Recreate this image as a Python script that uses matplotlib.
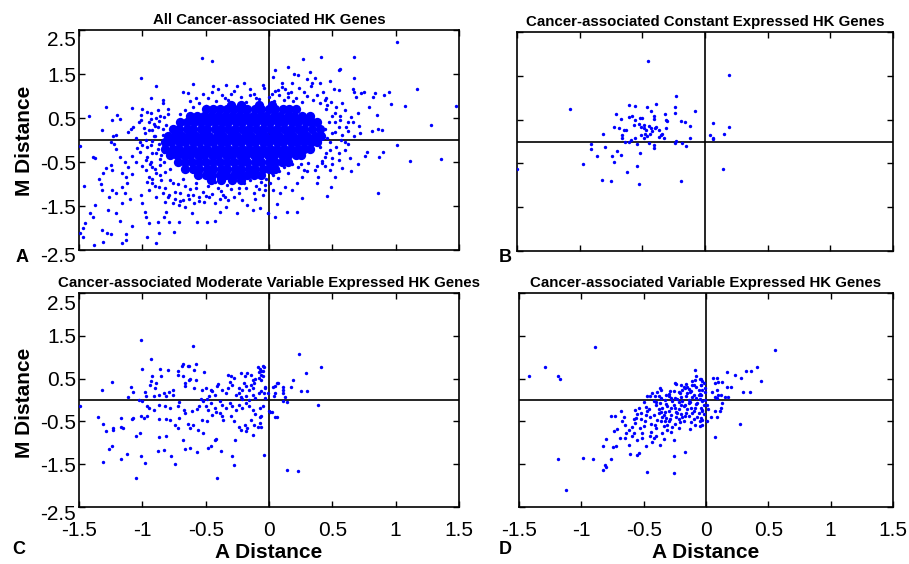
import matplotlib
matplotlib.use("Agg")
import matplotlib.pyplot as plt
from matplotlib.transforms import ScaledTranslation

plt.rcParams["font.family"] = ["Liberation Sans", "DejaVu Sans"]

titles = [
    "All Cancer-associated HK Genes",
    "Cancer-associated Constant Expressed HK Genes",
    "Cancer-associated Moderate Variable Expressed HK Genes",
    "Cancer-associated Variable Expressed HK Genes",
]
panel_letters = ["A", "B", "C", "D"]
x_ticks = [-1.5, -1, -0.5, 0, 0.5, 1, 1.5]
x_tick_labels = ["-1.5", "-1", "-0.5", "0", "0.5", "1", "1.5"]
y_ticks = [2.5, 1.5, 0.5, -0.5, -1.5, -2.5]
y_tick_labels = ["2.5", "1.5", "0.5", "-0.5", "-1.5", "-2.5"]

# panel A: scattered genes around the dense cloud (A distance, M distance)
pts_a = [
    (-0.53, 1.87), (-0.45, 1.80), (-1.01, 1.41), (-0.89, 1.23), (-0.60, 1.27), (-0.44, 1.23),
    (-0.68, 1.09), (-0.64, 1.06), (-0.93, 0.96), (-0.84, 0.91), (-0.84, 0.83), (-1.29, 0.74),
    (-1.08, 0.72), (-1.00, 0.70), (-0.96, 0.64), (-0.80, 0.70), (-1.42, 0.55), (-1.24, 0.45),
    (-1.20, 0.56), (-1.18, 0.47), (-1.01, 0.56), (-1.01, 0.45), (-0.93, 0.47), (-0.91, 0.36),
    (-0.87, 0.44), (-0.83, 0.52), (-1.32, 0.23), (-1.23, 0.09), (-1.21, 0.11), (-1.11, 0.18),
    (-1.09, 0.26), (-1.07, 0.29), (-1.25, -0.04), (-1.22, -0.09), (-1.21, -0.20), (-1.49, -0.14),
    (-1.39, -0.38), (-1.37, -0.40), (-1.29, -0.63), (-1.31, -0.76), (-1.25, -0.57), (-1.24, -0.68),
    (-1.46, -1.05), (-1.34, -0.89), (-1.33, -1.00), (-1.32, -1.14), (-1.37, -1.48), (-1.39, -1.74),
    (-1.41, -1.67), (-1.45, -1.89), (-1.47, -2.01), (-1.49, -2.12), (-1.47, -2.20), (-1.38, -2.39),
    (-1.31, -2.31), (-1.32, -2.05), (-1.28, -2.12), (-1.25, -2.14), (-1.16, -2.35), (-1.13, -2.27),
    (-1.13, -2.14), (-1.08, -1.95), (-1.18, -1.83), (-1.21, -1.65), (-1.16, -1.44), (-1.27, -1.59),
    (-1.26, -1.29), (-1.24, -1.14), (-1.21, -1.21), (-1.16, -1.06), (-1.14, -1.21), (-1.12, -0.98),
    (-1.10, -1.33), (-1.16, -0.76), (-1.13, -0.83), (-1.11, -0.61), (-1.08, -0.77), (-1.18, -0.38),
    (-1.14, -0.49), (-1.08, -0.36), (-1.05, -0.49), (-1.04, -0.19), (-1.00, -0.11), (-1.02, -0.04),
    (-1.01, -1.25), (-1.00, -1.44), (-0.98, -1.63), (-0.97, -1.76), (-0.95, -1.88), (-0.96, -2.20),
    (-0.89, -2.35), (-0.87, -2.12), (-0.88, -1.86), (-0.83, -1.74), (-0.81, -1.63), (-0.79, -1.86),
    (-0.75, -2.08), (-0.71, -1.86), (-0.61, -1.65), (-0.57, -1.86), (-0.49, -1.86), (-0.43, -1.83),
    (-0.39, -1.63), (-0.34, -1.52), (-0.25, -1.67), (-0.21, -1.36), (-0.17, -1.48), (-0.13, -1.59),
    (-0.07, -1.55), (-0.01, -1.67), (-0.11, -1.33), (-0.05, -1.25), (-0.03, -1.14), (-0.95, -1.14),
    (-0.92, -0.98), (-0.89, -1.29), (-0.87, -1.06), (-0.84, -1.21), (-0.82, -1.40), (-0.79, -1.25),
    (-0.76, -1.44), (-0.74, -1.33), (-0.71, -1.48), (-0.68, -1.36), (-0.66, -1.52), (-0.63, -1.33),
    (-0.59, -1.44), (-0.55, -1.29), (-0.51, -1.40), (-0.47, -1.29), (-0.43, -1.44), (-0.39, -1.33),
    (-0.36, -1.25), (-0.32, -1.36), (-0.28, -1.29), (-0.24, -1.21), (-0.97, -0.68), (-0.95, -0.83),
    (-0.92, -0.61), (-0.89, -0.76), (-0.86, -0.57), (-0.82, -0.72), (-0.96, -0.38), (-0.93, -0.49),
    (-0.89, -0.30), (-0.86, -0.44), (-0.83, -0.27), (-0.97, 0.00), (-0.93, -0.11), (-0.91, 0.08),
    (-0.87, -0.08), (-0.84, 0.11), (-0.92, 0.23), (-0.88, 0.30), (-0.84, 0.24), (-0.81, 0.34),
    (1.01, 2.23), (0.41, 1.89), (0.67, 1.89), (0.27, 1.84), (0.15, 1.65), (0.56, 1.61),
    (0.55, 1.58), (0.32, 1.55), (0.67, 1.42), (0.05, 1.58), (0.03, 1.44), (1.17, 1.16),
    (0.95, 1.10), (0.91, 1.02), (0.84, 1.06), (0.82, 0.97), (1.07, 0.77), (0.96, 0.82),
    (1.48, 0.78), (1.28, 0.33), (1.36, -0.43), (1.11, -0.47), (1.01, -0.11), (0.86, -1.20),
    (0.90, -0.27), (0.87, -0.38), (0.76, -0.36), (0.77, -0.27), (0.73, 1.06), (0.75, 1.10),
    (0.69, 0.98), (0.66, 1.15), (0.67, 1.10), (0.79, 0.74), (0.85, 0.57), (0.89, 0.23),
    (0.86, 0.24), (0.81, 0.21), (0.71, 0.32), (0.67, 0.08), (0.62, -0.08), (0.65, -0.70),
    (0.58, -0.64), (0.52, -0.83), (0.49, -1.06), (0.46, -1.27), (0.26, -1.31), (0.22, -1.64),
    (0.14, -1.64), (0.05, -1.74), (0.06, -1.45), (-0.01, -1.67), (0.39, -0.83), (0.38, -0.98),
    (0.36, -0.68), (0.42, -0.53), (0.44, -0.38), (0.48, -0.68), (0.55, -0.45), (0.60, -0.23),
    (0.57, 0.00), (0.52, 0.19), (0.61, 0.30), (0.56, 0.45), (0.65, 0.53), (0.60, 0.68),
    (0.53, 0.76), (0.49, 0.87), (0.45, 0.95), (0.55, 1.14), (0.51, 1.17), (0.48, 1.35),
    (0.36, 1.40), (0.40, 1.29), (0.34, 1.29), (0.30, 1.38), (0.23, 1.48), (0.20, 1.50),
    (0.18, 1.29), (0.10, 1.29), (0.13, 1.17), (0.07, 1.14), (0.15, 1.06), (0.28, -0.68),
    (0.26, -0.83), (0.22, -0.98), (0.18, -1.14), (0.13, -1.06), (0.09, -1.21), (0.03, -1.14),
    (0.01, -0.98), (0.31, -0.53), (0.23, -0.61), (0.15, -0.76), (0.07, -0.87), (0.02, -0.76),
    (-0.55, 0.85), (-0.48, 0.95), (-0.42, 0.88), (-0.37, 1.02), (-0.32, 0.92), (-0.28, 1.12),
    (-0.22, 0.98), (-0.18, 0.86), (-0.12, 1.05), (-0.08, 0.93), (-0.04, 1.18), (0.00, 0.97),
    (0.04, 0.88), (0.08, 1.02), (0.12, 0.92), (0.17, 1.08), (0.21, 0.95), (0.26, 0.86),
    (0.30, 1.00), (0.35, 0.90), (0.40, 0.84), (-0.50, 0.78), (-0.60, 0.76), (-0.66, 0.68),
    (-0.70, 0.60), (-0.25, 1.22), (-0.15, 1.15), (0.05, 1.12), (0.24, 1.18), (0.44, 0.92),
    (-0.34, 1.25), (-0.45, 1.10), (-0.52, 1.05), (-0.95, 0.40), (-0.90, 0.10), (-0.88, -0.20),
    (-0.92, -0.30), (-0.86, 0.55), (-0.83, -0.50), (-0.80, 0.60), (-0.78, -0.65), (-0.96, -0.15),
    (-0.90, 0.32), (-0.98, 0.15), (-1.02, -0.28), (-0.94, -0.55), (-0.78, -0.90), (-0.72, -1.00),
    (-0.68, -0.88), (-0.62, -1.12), (-0.58, -0.98), (-0.52, -1.18), (-0.48, -1.05), (-0.43, -0.95),
    (-0.38, -1.15), (-0.33, -1.02), (-0.28, -0.94), (-0.24, -1.10), (-0.20, -0.98), (-0.15, -0.90),
    (-0.10, -1.05), (-0.06, -0.95), (-0.02, -0.88), (0.03, -0.80), (0.08, -0.70), (-0.70, -1.20),
    (-0.60, -1.25), (-0.45, -1.22), (-0.12, -1.20), (-0.03, -1.02), (0.12, -0.62), (0.18, -0.55),
    (0.45, 0.70), (0.50, 0.55), (0.47, 0.40), (0.55, 0.30), (0.50, 0.15), (0.58, 0.12),
    (0.48, -0.05), (0.53, -0.15), (0.45, -0.30), (0.50, -0.40), (0.42, -0.48), (0.62, 0.42),
    (0.60, -0.05), (0.52, 0.62), (0.38, -0.60), (0.30, -0.70), (0.25, -0.55),
    (-0.58, 0.95), (-0.40, 1.15), (-0.30, 1.05), (-0.20, 1.30), (-0.10, 0.95), (0.02, 1.05),
    (0.10, 1.20), (0.15, 0.98), (0.28, 1.10), (0.33, 1.22), (0.38, 1.02), (0.43, 1.10),
    (-0.62, 0.88), (-0.15, 1.02), (0.19, 0.88), (0.46, 0.80), (-0.35, 0.96), (-0.05, 1.25),
    (-0.99, 0.28), (-0.93, 0.62), (-0.97, -0.45), (-1.03, 0.40), (-0.92, -0.02), (-0.89, 0.50),
    (-0.95, 0.22), (-1.05, 0.05), (-0.90, -0.65), (-1.00, -0.60), (-0.88, 0.68), (-0.85, -0.35),
    (-0.96, -0.95), (-0.90, -1.05), (-0.85, -0.92), (-0.82, -1.10), (-0.80, -1.30), (-0.76, -0.98),
    (-0.74, -1.18), (-0.70, -1.38), (-0.66, -1.05), (-0.64, -1.25), (-0.58, -1.10), (-0.55, -1.38),
    (-0.50, -1.28), (-0.40, -1.08), (-0.35, -1.30), (-0.30, -1.12), (-0.18, -1.08), (-0.08, -1.12),
    (-0.86, -0.80), (-0.92, -0.88), (0.44, 0.25), (0.46, 0.05), (0.52, 0.40), (0.56, 0.55),
    (0.62, 0.20), (0.66, 0.40), (0.70, 0.62), (0.58, 0.85), (0.48, -0.22), (0.55, -0.30),
    (0.44, -0.60), (0.40, -0.15), (0.64, -0.40), (0.70, -0.55), (0.72, 0.15), (0.50, -0.55),
]

# panel A: the solid core of the cloud, one M level per row with its A values
a_core_y = [0.80, 0.70, 0.55, 0.40, 0.25, 0.10, -0.05, -0.20, -0.35, -0.50, -0.65, -0.80, -0.92]
a_core_x = [
    [-0.30, -0.22, -0.08, 0.02],
    [-0.50, -0.44, -0.39, -0.33, -0.28, -0.22, -0.17, -0.11, -0.06, 0.00, 0.05, 0.11, 0.16, 0.21],
    [-0.62, -0.57, -0.51, -0.46, -0.40, -0.35, -0.29, -0.24, -0.18, -0.13, -0.07, -0.02, 0.04, 0.09,
     0.15, 0.20, 0.26, 0.32],
    [-0.70, -0.65, -0.59, -0.54, -0.48, -0.43, -0.37, -0.32, -0.26, -0.21, -0.15, -0.10, -0.04, 0.01,
     0.07, 0.12, 0.18, 0.23, 0.29, 0.34, 0.38],
    [-0.76, -0.71, -0.65, -0.60, -0.54, -0.49, -0.43, -0.38, -0.32, -0.27, -0.21, -0.16, -0.10, -0.05,
     0.01, 0.06, 0.12, 0.17, 0.23, 0.28, 0.34, 0.40],
    [-0.80, -0.74, -0.69, -0.63, -0.58, -0.52, -0.47, -0.41, -0.36, -0.30, -0.25, -0.19, -0.14, -0.08,
     -0.03, 0.03, 0.08, 0.14, 0.19, 0.25, 0.30, 0.36, 0.41],
    [-0.82, -0.77, -0.71, -0.66, -0.60, -0.55, -0.49, -0.44, -0.38, -0.33, -0.27, -0.22, -0.16, -0.11,
     -0.05, 0.00, 0.06, 0.11, 0.17, 0.22, 0.28, 0.33, 0.38],
    [-0.82, -0.76, -0.71, -0.65, -0.60, -0.54, -0.49, -0.43, -0.38, -0.32, -0.27, -0.21, -0.16, -0.10,
     -0.05, 0.01, 0.06, 0.12, 0.17, 0.23, 0.28, 0.32],
    [-0.78, -0.73, -0.67, -0.62, -0.56, -0.51, -0.45, -0.40, -0.34, -0.29, -0.23, -0.18, -0.12, -0.07,
     -0.01, 0.04, 0.10, 0.15, 0.21, 0.25],
    [-0.72, -0.66, -0.61, -0.55, -0.50, -0.44, -0.39, -0.33, -0.28, -0.22, -0.17, -0.11, -0.06, 0.00,
     0.05, 0.10, 0.15],
    [-0.66, -0.60, -0.55, -0.49, -0.44, -0.38, -0.33, -0.27, -0.22, -0.16, -0.11, -0.05, 0.00, 0.05],
    [-0.56, -0.50, -0.45, -0.39, -0.34, -0.28, -0.23, -0.17, -0.12, -0.06],
    [-0.46, -0.38, -0.29, -0.22],
]

pts_b = [
    (-0.455, 1.84), (0.19, 1.52), (-1.08, 0.74), (-0.23, 1.05), (-0.08, 0.70), (-0.61, 0.83),
    (-0.56, 0.82), (-0.46, 0.79), (-0.43, 0.69), (-0.39, 0.86), (-0.24, 0.79), (-0.24, 0.64),
    (-0.71, 0.62), (-0.67, 0.51), (-0.61, 0.55), (-0.58, 0.58), (-0.56, 0.49), (-0.52, 0.53),
    (-0.50, 0.53), (-0.41, 0.58), (-0.41, 0.51), (-0.32, 0.63), (-0.31, 0.49), (-0.30, 0.46),
    (-0.19, 0.47), (-0.16, 0.44), (-0.12, 0.35), (0.06, 0.43), (0.19, 0.32), (-0.73, 0.34),
    (-0.69, 0.30), (-0.65, 0.27), (-0.63, 0.26), (-0.57, 0.37), (-0.53, 0.40), (-0.51, 0.34),
    (-0.49, 0.30), (-0.49, 0.37), (-0.47, 0.26), (-0.45, 0.35), (-0.43, 0.31), (-0.42, 0.24),
    (-0.40, 0.30), (-0.39, 0.34), (-0.37, 0.26), (-0.31, 0.30), (-0.81, 0.18), (-0.66, 0.14),
    (-0.66, 0.09), (-0.51, 0.14), (-0.48, 0.18), (-0.46, 0.12), (-0.44, 0.16), (-0.37, 0.11),
    (-0.35, 0.14), (-0.34, 0.18), (-0.33, 0.09), (-0.12, 0.09), (0.04, 0.14), (0.06, 0.09),
    (0.06, 0.06), (0.15, 0.17), (-0.64, -0.01), (-0.61, -0.01), (-0.59, 0.03), (-0.56, 0.07),
    (-0.54, -0.05), (-0.49, 0.08), (-0.45, -0.03), (-0.41, -0.07), (-0.41, -0.14), (-0.24, -0.03),
    (-0.23, 0.02), (-0.18, -0.03), (-0.15, -0.10), (-0.91, -0.06), (-0.91, -0.18), (-0.80, -0.13),
    (-0.86, -0.32), (-0.70, -0.22), (-0.74, -0.32), (-0.67, -0.30), (-0.73, -0.46), (-0.52, -0.27),
    (-0.97, -0.52), (-0.54, -0.55), (-0.62, -0.70), (-0.82, -0.87), (-0.75, -0.91), (-0.53, -0.98),
    (-0.19, -0.91), (0.14, -0.62), (-1.50, -0.62),
]

pts_c = [
    (-1.01, 1.40), (-0.60, 1.27), (-0.93, 0.96), (-1.00, 0.72), (-1.24, 0.41), (-1.32, 0.23),
    (-1.49, -0.13), (-1.35, -0.40), (-1.31, -0.56), (-1.29, -0.72), (-1.23, -0.71), (-1.23, -0.65),
    (-1.17, -0.43), (-1.17, -0.62), (-1.15, -0.65), (-1.24, -1.07), (-1.26, -1.14), (-1.31, -1.45),
    (-1.17, -1.39), (-1.12, -1.26), (-1.05, -1.82), (-1.01, -1.31), (-0.98, -1.47), (-1.08, -0.44),
    (-1.07, -0.42), (-1.05, -0.85), (-1.02, -0.77), (-1.01, -0.38), (-0.99, -0.43), (-0.96, -0.37),
    (-1.11, 0.06), (-1.09, 0.30), (-1.07, 0.18), (-1.03, 0.01), (-1.00, -0.02), (-0.97, 0.09),
    (-0.96, -0.13), (-0.93, 0.44), (-0.94, 0.36), (-0.92, 0.55), (-0.89, 0.40), (-0.90, 0.28),
    (-0.86, 0.72), (-0.85, 0.57), (-0.80, 0.69), (-0.87, -0.44), (-0.87, -0.86), (-0.88, -1.18),
    (-0.83, -1.16), (-0.81, -0.83), (-0.77, -1.30), (-0.74, -1.49), (-0.81, -0.44), (-0.78, -0.46),
    (-0.72, -0.65), (-0.68, -0.94), (-0.66, -1.14), (-0.62, -1.11), (-0.57, -1.21), (-0.48, -1.13),
    (-0.46, -1.08), (-0.43, -0.93), (-0.42, -0.91), (-0.41, -1.82), (-0.38, -1.18), (-0.29, -1.32),
    (-0.28, -1.53), (-0.27, -0.93), (-0.04, -1.29), (-0.71, -0.05), (-0.72, -0.15), (-0.76, 0.12),
    (-0.76, 0.24), (-0.72, 0.67), (-0.72, 0.59), (-0.69, 0.80), (-0.68, 0.83), (-0.64, 0.80),
    (-0.63, 0.79), (-0.58, 0.85), (-0.59, 0.71), (-0.51, 0.65), (-0.68, 0.57), (-0.66, 0.40),
    (-0.63, 0.46), (-0.62, 0.49), (-0.66, 0.32), (-0.59, 0.28), (-0.58, 0.46), (-0.83, 0.16),
    (-0.81, 0.10), (-0.79, 0.18), (-0.91, 0.09), (-0.87, 0.12), (-0.87, -0.12), (-0.82, -0.13),
    (-0.78, -0.19), (-0.67, -0.23), (-0.66, -0.30), (-0.61, -0.26), (-0.57, -0.21), (-0.55, -0.15),
    (-0.71, -0.42), (-0.74, -0.58), (-0.64, -0.55), (-0.62, -0.65), (-0.60, -0.59), (-0.53, -0.46),
    (-0.49, -0.48), (-0.54, 0.02), (-0.52, -0.03), (-0.49, 0.02), (-0.47, 0.09), (-0.53, 0.24),
    (-0.50, 0.27), (-0.46, 0.24), (-0.45, 0.20), (-0.43, 0.12), (-0.41, 0.32), (-0.40, 0.38),
    (-0.37, 0.24), (-0.34, 0.16), (-0.32, 0.28), (-0.32, 0.59), (-0.30, 0.55), (-0.28, 0.51),
    (-0.31, 0.41), (-0.29, 0.36), (-0.22, 0.62), (-0.19, 0.55), (-0.17, 0.62), (-0.14, 0.58),
    (-0.13, 0.46), (-0.12, 0.40), (-0.11, 0.49), (-0.08, 0.51), (-0.08, 0.65), (-0.06, 0.59),
    (-0.04, 0.77), (-0.05, 0.67), (-0.07, 0.72), (-0.09, 0.77), (-0.14, 0.36), (-0.13, 0.28),
    (-0.16, 0.24), (-0.20, 0.40), (-0.18, 0.32), (-0.21, 0.23), (-0.24, 0.28), (-0.26, 0.12),
    (-0.24, 0.16), (-0.22, 0.07), (-0.21, 0.02), (-0.18, 0.09), (-0.16, 0.01), (-0.13, 0.12),
    (-0.11, 0.05), (-0.08, 0.16), (-0.06, 0.20), (-0.03, 0.28), (-0.01, 0.16), (0.07, 0.40),
    (0.05, 0.32), (0.01, -0.29), (0.06, -0.40), (-0.39, -0.03), (-0.37, -0.11), (-0.34, -0.19),
    (-0.31, -0.07), (-0.29, -0.15), (-0.26, -0.23), (-0.24, -0.11), (-0.21, -0.19), (-0.18, -0.07),
    (-0.16, -0.15), (-0.13, -0.23), (-0.11, -0.32), (-0.07, -0.19), (-0.06, -0.38), (-0.30, -0.38),
    (-0.28, -0.50), (-0.24, -0.62), (-0.22, -0.69), (-0.19, -0.58), (-0.17, -0.65), (-0.14, -0.46),
    (-0.12, -0.58), (-0.09, -0.62), (-0.07, -0.54), (-0.46, -0.07), (-0.43, -0.19), (-0.42, -0.29),
    (-0.45, -0.34), (-0.48, -0.23), (-0.50, -0.15), (-0.39, -0.30), (-0.37, -0.38), (-0.36, -0.46),
    (-0.56, -0.69), (-0.52, -0.77), (-0.18, -0.73), (-0.13, -0.81), (-0.95, -0.19), (-0.91, -0.24),
    (-0.98, 0.19), (0.24, 1.07), (0.41, 0.77), (0.29, 0.62), (0.19, 0.46), (0.06, 0.40),
    (0.03, 0.30), (0.11, 0.30), (0.11, 0.23), (0.11, 0.16), (0.17, 0.30), (0.25, 0.22),
    (0.30, 0.22), (0.05, 0.16), (0.04, 0.09), (0.13, 0.06), (0.14, -0.04), (0.11, -0.02),
    (0.39, -0.12), (0.00, -0.26), (0.02, -0.29), (0.05, -0.40), (0.14, -1.63), (0.23, -1.65),
    (-0.05, 0.79), (-0.06, 0.67), (-0.05, 0.57), (-0.06, 0.46), (-0.03, 0.30), (-0.04, 0.16),
    (-0.03, 0.05), (-0.05, -0.13), (-0.07, -0.40), (-0.06, -0.62),
]

pts_d = [
    (-0.89, 1.23), (-1.29, 0.76), (-1.42, 0.57), (-1.19, 0.57), (-1.17, 0.48), (-1.19, -1.38),
    (-0.99, -1.36), (-0.91, -1.39), (-1.12, -2.11), (-0.83, -1.63), (-0.81, -1.52), (-0.80, -1.56),
    (-0.76, -1.38), (-0.83, -1.08), (-0.80, -0.90), (-0.75, -1.10), (-0.72, -1.08), (-0.76, -0.37),
    (-0.73, -0.37), (-0.68, -0.26), (-0.74, -0.73), (-0.71, -0.68), (-0.69, -0.89), (-0.67, -0.48),
    (-0.65, -0.58), (-0.64, -0.77), (-0.65, -0.89), (-0.62, -1.04), (-0.61, -1.25), (-0.59, -0.62),
    (-0.58, -0.76), (-0.57, -0.54), (-0.57, -0.23), (-0.55, -0.32), (-0.55, -0.93), (-0.55, -1.28),
    (-0.54, -1.24), (-0.53, -0.66), (-0.51, -0.77), (-0.51, -0.89), (-0.52, -0.44), (-0.49, -0.50),
    (-0.47, 0.10), (-0.48, -0.16), (-0.47, -0.26), (-0.45, -0.40), (-0.47, -1.69), (-0.48, -1.08),
    (-0.45, -0.83), (-0.43, -0.97), (-0.42, -0.89), (-0.41, -0.58), (-0.39, -0.46), (-0.38, -0.30),
    (-0.42, -0.03), (-0.41, 0.09), (-0.39, 0.18), (-0.37, 0.28), (-0.36, 0.23), (-0.37, -0.07),
    (-0.35, -0.19), (-0.33, -0.29), (-0.31, -0.15), (-0.35, -0.40), (-0.33, -0.50), (-0.31, -0.58),
    (-0.29, -0.44), (-0.37, -1.04), (-0.35, -0.77), (-0.31, -0.69), (-0.33, 0.01), (-0.30, 0.09),
    (-0.29, 0.20), (-0.27, -0.03), (-0.25, 0.40), (-0.24, 0.38), (-0.26, -0.93), (-0.26, -1.30),
    (-0.26, -1.71), (-0.25, -0.19), (-0.23, -0.30), (-0.22, -0.44), (-0.21, 0.16), (-0.19, 0.24),
    (-0.17, 0.28), (-0.15, 0.30), (-0.23, 0.02), (-0.19, -0.03), (-0.17, -0.11), (-0.14, 0.01),
    (-0.11, 0.07), (-0.17, -1.22), (-0.13, -0.68), (-0.11, -0.30), (-0.09, -0.19), (-0.07, -0.07),
    (-0.05, 0.02), (-0.03, -0.23), (-0.09, -0.58), (-0.05, -0.60), (-0.03, -0.46), (-0.09, 0.69),
    (-0.08, 0.57), (-0.09, 0.46), (-0.11, 0.44), (-0.05, 0.49), (-0.04, 0.36), (-0.06, 0.24),
    (-0.15, 0.16), (-0.13, 0.18), (-0.10, 0.12), (-0.25, -0.55), (-0.19, -0.40), (-0.16, -0.30),
    (-0.45, 0.09), (-0.43, 0.16), (-0.54, -0.19), (-0.50, -0.05), (-0.59, -0.85), (0.55, 1.16),
    (0.41, 0.77), (0.32, 0.67), (0.36, 0.67), (0.17, 0.65), (0.23, 0.58), (0.28, 0.51),
    (0.44, 0.44), (0.30, 0.19), (0.35, 0.19), (0.06, 0.51), (0.09, 0.51), (0.07, 0.40),
    (0.10, 0.41), (0.13, 0.43), (0.05, 0.18), (0.09, 0.23), (0.10, 0.12), (0.12, 0.12),
    (0.17, 0.30), (0.20, 0.30), (0.15, 0.07), (0.18, 0.07), (0.07, 0.07), (0.09, 0.04),
    (0.13, -0.07), (0.12, -0.19), (0.11, -0.26), (0.09, -0.40), (0.07, -0.26), (0.04, -0.40),
    (0.01, -0.48), (0.27, -0.55), (0.07, -0.86), (-0.04, 0.49), (-0.04, 0.36), (-0.03, 0.24),
    (-0.04, 0.12), (-0.03, -0.03), (-0.04, -0.19), (-0.03, -0.26), (-0.04, -0.42), (-0.03, -0.58),
    (-0.01, 0.28), (-0.01, 0.01), (0.01, -0.11), (-0.40, -0.12), (-0.38, -0.22), (-0.36, 0.05),
    (-0.34, -0.35), (-0.32, -0.10), (-0.30, -0.25), (-0.28, 0.05), (-0.28, -0.35), (-0.26, -0.12),
    (-0.24, -0.40), (-0.22, -0.05), (-0.22, -0.22), (-0.20, 0.08), (-0.20, -0.32), (-0.18, -0.15),
    (-0.16, 0.10), (-0.14, -0.08), (-0.14, -0.38), (-0.12, 0.22), (-0.12, -0.18), (-0.10, -0.45),
    (-0.08, 0.30), (-0.08, -0.10), (-0.06, -0.30), (-0.06, 0.12), (-0.02, -0.12), (-0.02, 0.40),
    (-0.10, 0.34), (-0.16, 0.38), (-0.20, 0.35), (-0.26, 0.22), (-0.32, 0.12), (-0.36, -0.50),
    (-0.40, -0.65), (-0.44, -0.55), (-0.30, -0.48), (-0.18, -0.50), (-0.48, -0.35), (-0.50, -0.60),
    (-0.56, -0.42), (-0.42, -0.35), (-0.40, -0.05), (-0.38, 0.10), (-0.36, -0.28), (-0.34, -0.60),
    (-0.32, -0.42), (-0.30, 0.15), (-0.28, -0.18), (-0.27, -0.62), (-0.25, 0.05), (-0.24, -0.28),
    (-0.22, 0.18), (-0.21, -0.52), (-0.20, -0.12), (-0.18, 0.30), (-0.17, -0.38), (-0.15, -0.22),
    (-0.14, 0.25), (-0.13, -0.05), (-0.12, -0.52), (-0.11, 0.35), (-0.10, -0.25), (-0.08, 0.05),
    (-0.07, -0.40), (-0.05, 0.15), (-0.05, -0.50), (-0.03, 0.45), (-0.02, -0.32), (-0.01, 0.18),
    (0.02, -0.20), (-0.46, -0.20), (-0.44, -0.75), (-0.52, -0.30), (-0.58, -0.45), (-0.62, -0.70),
    (-0.66, -0.40), (-0.40, -0.85), (-0.28, -0.75), (-0.22, -0.65), (-0.34, -0.90),
]

W, H = 909, 564
fig = plt.figure(figsize=(W / 100, H / 100), dpi=100)


def px_axes(left, top, right, bottom):
    return fig.add_axes([left / W, 1 - bottom / H, (right - left) / W, (bottom - top) / H])


axes = [
    px_axes(79, 30, 459, 250),
    px_axes(517, 32, 893, 251),
    px_axes(79, 293, 459, 507),
    px_axes(519, 293, 893, 507),
]

dot = dict(s=6, color="#0000ff", linewidths=0, zorder=3)
panel_pts = [pts_a, pts_b, pts_c, pts_d]

for i, ax in enumerate(axes):
    xs, ys = zip(*panel_pts[i])
    ax.scatter(xs, ys, **dot)
    ax.set_xlim(-1.5, 1.5)
    ax.set_ylim(-2.5, 2.5)
    ax.axhline(0, color="black", lw=1.2, zorder=2)
    ax.axvline(0, color="black", lw=1.2, zorder=2)
    ax.set_xticks(x_ticks)
    ax.set_yticks(y_ticks)
    ax.set_xticklabels(x_tick_labels if i >= 2 else [])
    ax.set_yticklabels(y_tick_labels if i % 2 == 0 else [])
    ax.tick_params(direction="in", top=True, right=True, length=4, width=1,
                   labelsize=15, pad=2)
    ax.tick_params(axis="x", pad=10)
    for sp in ax.spines.values():
        sp.set_linewidth(1.2)
    ax.set_title(titles[i], fontsize=10.8, fontweight="bold", pad=4)
    if i % 2 == 0:
        # MATLAB pulls the end labels inside the axis range
        labels = ax.get_yticklabels()
        for lab, dy in ((labels[0], -9), (labels[-1], -5)):
            lab.set_transform(lab.get_transform() + ScaledTranslation(0, dy / 100, fig.dpi_scale_trans))

# dense core of panel A
for y, row in zip(a_core_y, a_core_x):
    axes[0].scatter(row, [y] * len(row), s=45, color="#0000ff", linewidths=0, zorder=3)

for ly in (141, 403):
    fig.text(25 / W, 1 - ly / H, "M Distance", rotation=90, ha="center", va="center",
             fontsize=15, fontweight="bold")
for lx in (269, 706):
    fig.text(lx / W, 1 - 553 / H, "A Distance", ha="center", va="center",
             fontsize=15, fontweight="bold")

letter_pos = [(22, 258), (505, 258), (19, 550), (505, 550)]
for letter, (lx, ly) in zip(panel_letters, letter_pos):
    fig.text(lx / W, 1 - ly / H, letter, ha="center", va="center",
             fontsize=13, fontweight="bold")

fig.savefig("out.png", dpi=100)
